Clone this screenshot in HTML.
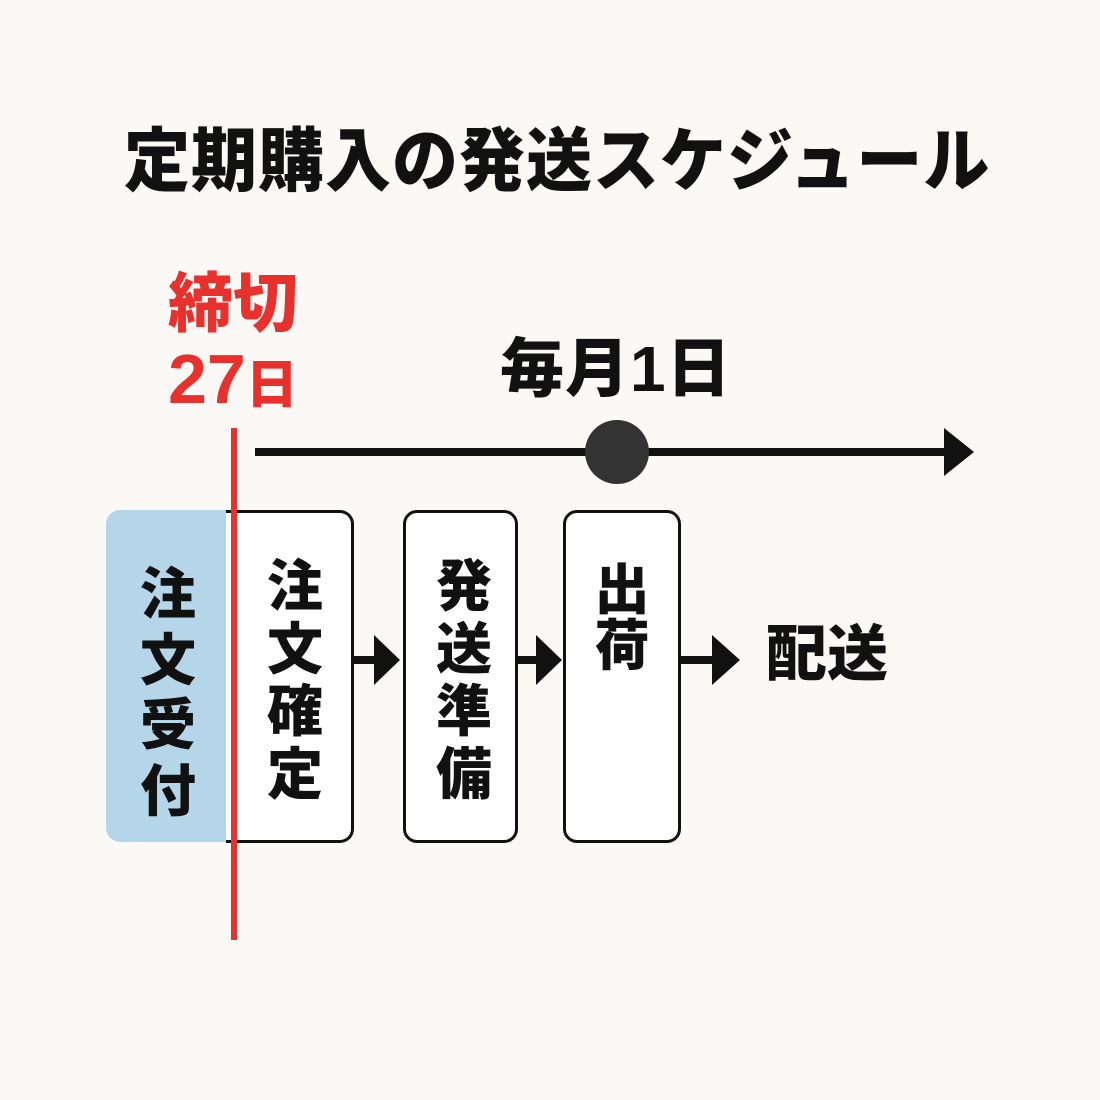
<!DOCTYPE html>
<html><head><meta charset="utf-8"><style>
body{margin:0;width:1100px;height:1100px;background:#faf9f5;position:relative;overflow:hidden;font-family:"Liberation Sans","Noto Sans CJK JP",sans-serif;font-weight:bold}
.a{position:absolute}
.t{position:absolute;white-space:nowrap;line-height:1}
.v{position:absolute;width:70px;text-align:center;line-height:1;font-weight:900}
.box{position:absolute;background:#fff;border:3px solid #111;border-radius:14px;box-sizing:border-box}
</style></head><body>
<div class="t" style="left:124px;top:126px;font-size:66px;letter-spacing:1px;font-weight:900;color:#111;transform:scaleY(1.05);transform-origin:top left">定期購入の発送スケジュール</div>

<div class="t" style="left:168px;top:271px;font-size:65px;font-weight:900;color:#e8302c">締切</div>
<div class="t" style="left:168px;top:344px;font-size:70px;font-weight:900;color:#e8302c">27<span style="font-size:52px">日</span></div>

<div class="t" style="left:500px;top:337px;font-size:64px;letter-spacing:1px;font-weight:900;color:#111">毎月1日</div>

<div class="a" style="left:255px;top:448px;width:695px;height:8px;background:#111"></div>
<svg class="a" style="left:940px;top:426px" width="36" height="52"><polygon points="4,2 34,26 4,50" fill="#111"/></svg>
<div class="a" style="left:585px;top:420px;width:64px;height:64px;border-radius:50%;background:#333"></div>

<div class="a" style="left:106px;top:510px;width:140px;height:332px;background:#b5d5e8;border-radius:14px 0 0 14px"></div>
<div class="v" style="left:133px;top:562px;font-size:56px;line-height:1.17;color:#111">注<br>文<br>受<br>付</div>

<div class="box" style="left:226px;top:510px;width:128px;height:333px;border-left:none;border-radius:0 14px 14px 0"></div>
<div class="v" style="left:260px;top:556px;font-size:56px;line-height:1.12;color:#111">注<br>文<br>確<br>定</div>

<div class="box" style="left:403px;top:510px;width:115px;height:333px"></div>
<div class="v" style="left:429px;top:556px;font-size:56px;line-height:1.12;color:#111">発<br>送<br>準<br>備</div>

<div class="box" style="left:563px;top:510px;width:118px;height:333px"></div>
<div class="v" style="left:587px;top:562px;font-size:55px;line-height:1.02;color:#111">出<br>荷</div>

<svg class="a" style="left:352px;top:630px" width="50" height="60"><rect x="0" y="26" width="26" height="8" fill="#111"/><polygon points="22,5 48,30 22,55" fill="#111"/></svg>
<svg class="a" style="left:516px;top:630px" width="50" height="60"><rect x="0" y="26" width="24" height="8" fill="#111"/><polygon points="20,5 46,30 20,55" fill="#111"/></svg>
<svg class="a" style="left:680px;top:630px" width="64" height="60"><rect x="0" y="26" width="36" height="8" fill="#111"/><polygon points="32,5 60,30 32,55" fill="#111"/></svg>

<div class="t" style="left:766px;top:624px;font-size:61px;font-weight:900;color:#111">配送</div>

<div class="a" style="left:231px;top:428px;width:6px;height:512px;background:#e8302c"></div>
</body></html>
